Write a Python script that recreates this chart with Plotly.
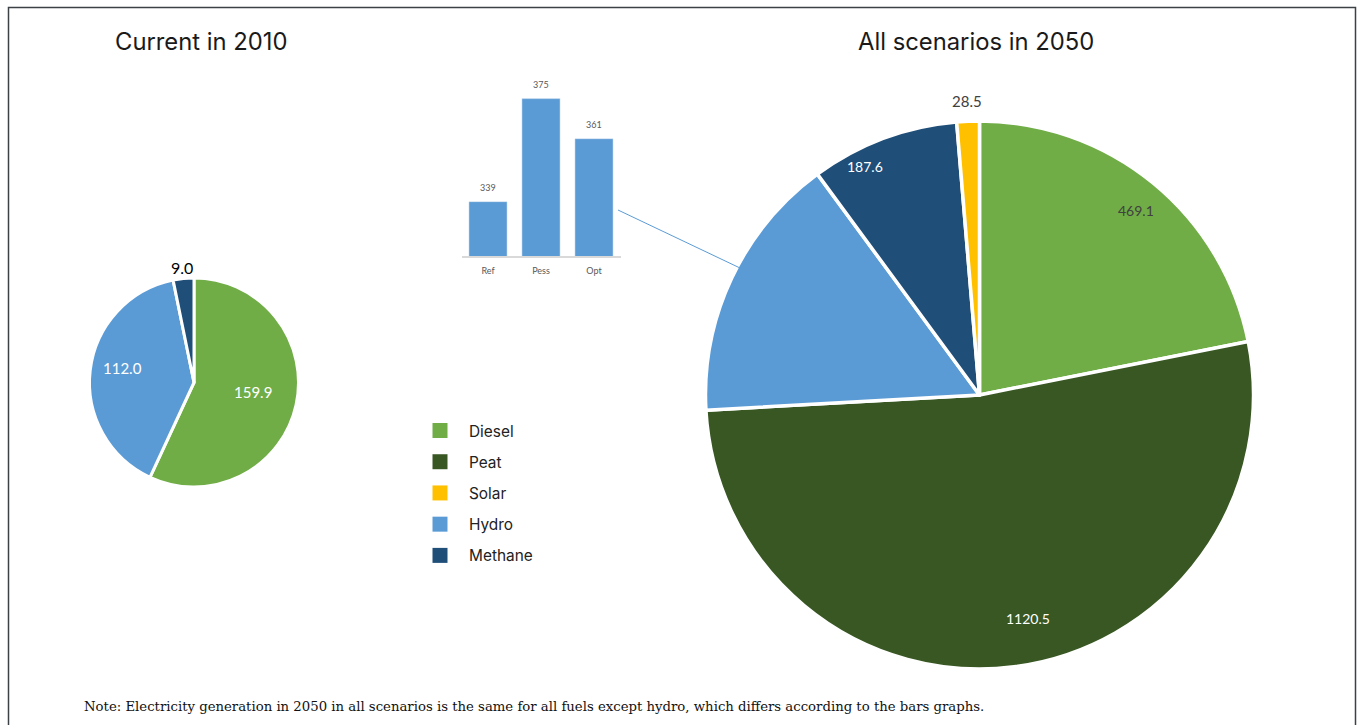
import math
import plotly.graph_objects as go

# ---- data ----
fuels_2010 = ["Diesel", "Hydro", "Methane"]
values_2010 = [159.9, 112.0, 9.0]

fuels_2050 = ["Diesel", "Peat", "Hydro", "Methane", "Solar"]
values_2050 = [469.1, 1120.5, 339.0, 187.6, 28.5]

scenarios = ["Ref", "Pess", "Opt"]
hydro_2050 = [339, 375, 361]

legend_fuels = ["Diesel", "Peat", "Solar", "Hydro", "Methane"]

colors = {
    "Diesel": "#70ad47",
    "Peat": "#385723",
    "Solar": "#ffc000",
    "Hydro": "#5b9bd5",
    "Methane": "#1f4e79",
}

W, H = 1361, 725

# pie placement in pixels (centre x, centre y from top, radius)
small_pie = dict(cx=194, cy=382.5, r=104.5)
big_pie = dict(cx=979.5, cy=395, r=274)
# radius actually drawn (slightly inside the domain because of the outline)
small_r_drawn = 103.5
big_r_drawn = 272


def domain_of(p):
    x0 = (p["cx"] - p["r"]) / W
    x1 = (p["cx"] + p["r"]) / W
    yb = H - p["cy"]
    y0 = (yb - p["r"]) / H
    y1 = (yb + p["r"]) / H
    return dict(x=[x0, x1], y=[y0, y1])


def slice_label(p, r, values, idx, frac, nudge=0.0):
    """Paper position of a label on slice idx (clockwise from 12 o'clock)."""
    total = sum(values)
    start = sum(values[:idx])
    ang = math.radians((start + values[idx] / 2) / total * 360 + nudge)
    x = p["cx"] + frac * r * math.sin(ang)
    y = (H - p["cy"]) + frac * r * math.cos(ang)
    return x / W, y / H


fig = go.Figure()

fig.add_trace(go.Pie(
    labels=fuels_2010, values=values_2010,
    marker=dict(colors=[colors[f] for f in fuels_2010], line=dict(color="white", width=3)),
    sort=False, direction="clockwise", rotation=0,
    textinfo="none", hoverinfo="label+value",
    domain=domain_of(small_pie), showlegend=False,
))

fig.add_trace(go.Pie(
    labels=fuels_2050, values=values_2050,
    marker=dict(colors=[colors[f] for f in fuels_2050], line=dict(color="white", width=3.5)),
    sort=False, direction="clockwise", rotation=0,
    textinfo="none", hoverinfo="label+value",
    domain=domain_of(big_pie), showlegend=False,
))

# hydro by scenario
fig.add_trace(go.Bar(
    x=scenarios, y=hydro_2050,
    marker=dict(color="#5b9bd5"),
    width=0.72, showlegend=False, hoverinfo="x+y",
))

# legend entries
for f in legend_fuels:
    fig.add_trace(go.Scatter(
        x=[None], y=[None], mode="markers", name=f, legendgroup=f,
        marker=dict(symbol="square", size=15, color=colors[f]),
    ))

annotations = []

# slice labels: (index, radial fraction, angular nudge, colour, size)
label_font = "Lato, Liberation Sans, sans-serif"
small_labels = [(0, 0.58, -3, "white", 15), (1, 0.71, 5, "white", 15), (2, 1.12, 0, "black", 16)]
for i, frac, nudge, col, sz in small_labels:
    x, y = slice_label(small_pie, small_r_drawn, values_2010, i, frac, nudge)
    annotations.append(dict(x=x, y=y, xref="paper", yref="paper", xanchor="center", yanchor="middle",
                            showarrow=False, text=f"{values_2010[i]:.1f}",
                            font=dict(family=label_font, size=sz, color=col)))

big_labels = [(0, 0.89, 1, "#404040", 14), (1, 0.84, -5, "white", 14),
              (3, 0.94, -6, "white", 14), (4, 1.08, 0, "#404040", 15)]
for i, frac, nudge, col, sz in big_labels:
    x, y = slice_label(big_pie, big_r_drawn, values_2050, i, frac, nudge)
    annotations.append(dict(x=x, y=y, xref="paper", yref="paper", xanchor="center", yanchor="middle",
                            showarrow=False, text=f"{values_2050[i]:.1f}",
                            font=dict(family=label_font, size=sz, color=col)))

# bar value labels
for s, v in zip(scenarios, hydro_2050):
    annotations.append(dict(x=s, y=v, xref="x", yref="y", yshift=14, showarrow=False,
                            text=str(v), font=dict(family=label_font, size=9, color="#595959")))

# titles
title_font = dict(family="Inter, Roboto, sans-serif", size=23.8, color="#1a1a1a")
annotations.append(dict(x=201 / W, y=1 - 42 / H, xref="paper", yref="paper",
                        xanchor="center", yanchor="middle", showarrow=False,
                        text="Current in 2010", font=title_font))
annotations.append(dict(x=976 / W, y=1 - 42 / H, xref="paper", yref="paper",
                        xanchor="center", yanchor="middle", showarrow=False,
                        text="All scenarios in 2050", font=title_font))

# footnote
annotations.append(dict(
    x=82 / W, y=1 - 706 / H, xref="paper", yref="paper", xanchor="left", yanchor="middle",
    showarrow=False,
    text="Note: Electricity generation in 2050 in all scenarios is the same for all fuels except hydro, "
         "which differs according to the bars graphs.",
    font=dict(family="DejaVu Serif, serif", size=13.26, color="#111111"),
))

shapes = [
    # frame
    dict(type="rect", xref="paper", yref="paper",
         x0=8.5 / W, x1=1355.5 / W, y0=-0.1, y1=1 - 7.5 / H,
         line=dict(color="#3c4145", width=1.5), fillcolor="rgba(0,0,0,0)", layer="below"),
    # connector from the bar chart to the hydro slice
    dict(type="line", xref="paper", yref="paper",
         x0=618 / W, y0=1 - 210 / H, x1=740 / W, y1=1 - 268 / H,
         line=dict(color="#5b9bd5", width=1)),
]

fig.update_layout(
    width=W, height=H,
    margin=dict(l=0, r=0, t=0, b=0),
    paper_bgcolor="white", plot_bgcolor="white",
    bargap=0.28,
    xaxis=dict(domain=[461.5 / W, 620.5 / W], anchor="y", type="category",
               showline=True, linecolor="#d9d9d9", linewidth=1.5, ticks="",
               ticklabelstandoff=5,
               showgrid=False, zeroline=False,
               tickfont=dict(family=label_font, size=9, color="#595959")),
    yaxis=dict(domain=[(H - 256) / H, (H - 70) / H], range=[320, 385],
               visible=False, showgrid=False, zeroline=False),
    legend=dict(x=411 / W, y=1 - 414 / H, xanchor="left", yanchor="top",
                traceorder="grouped", tracegroupgap=8.2, itemwidth=48,
                font=dict(family="Inter, Roboto, sans-serif", size=15.4, color="#222222"),
                bgcolor="rgba(0,0,0,0)"),
    annotations=annotations,
    shapes=shapes,
    hovermode="closest",
)

fig.write_html("out.html")
